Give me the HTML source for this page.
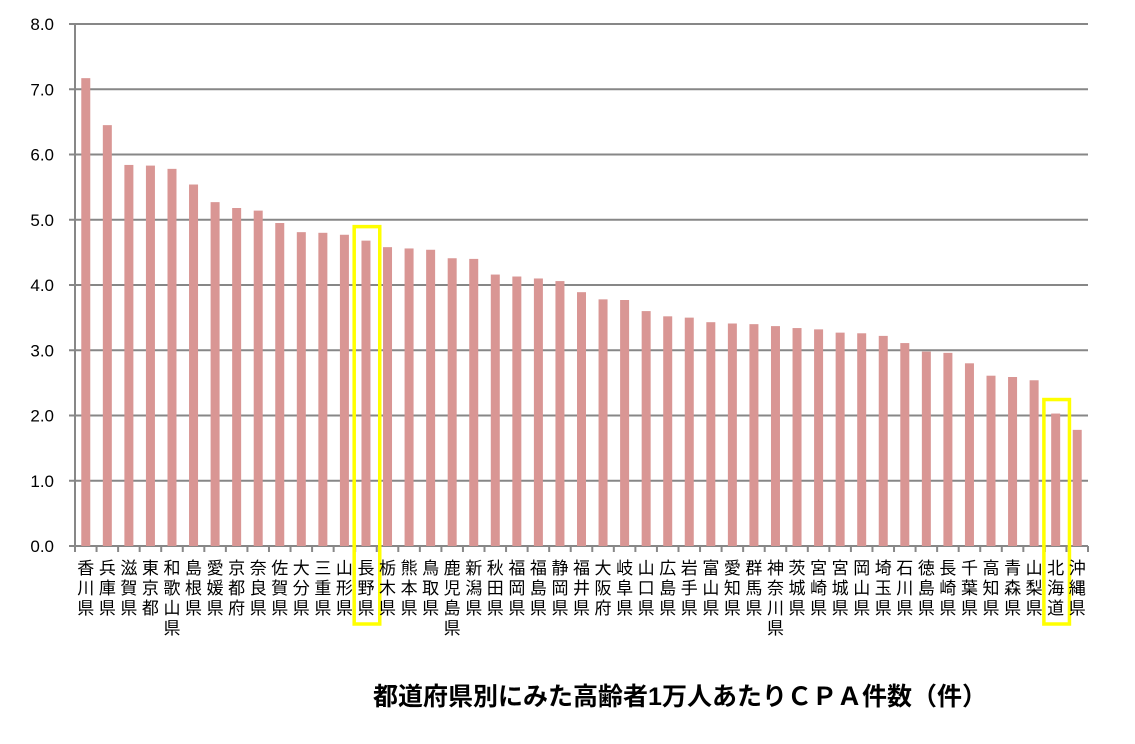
<!DOCTYPE html>
<html><head><meta charset="utf-8">
<style>
body{margin:0;background:#fff;width:1135px;height:739px;overflow:hidden;font-family:"Liberation Sans","Noto Sans CJK JP",sans-serif}
</style></head>
<body>
<svg id="chart" width="1135" height="739" xmlns="http://www.w3.org/2000/svg"></svg>
<script>
const categories=["香川県","兵庫県","滋賀県","東京都","和歌山県","島根県","愛媛県","京都府","奈良県","佐賀県","大分県","三重県","山形県","長野県","栃木県","熊本県","鳥取県","鹿児島県","新潟県","秋田県","福岡県","福島県","静岡県","福井県","大阪府","岐阜県","山口県","広島県","岩手県","富山県","愛知県","群馬県","神奈川県","茨城県","宮崎県","宮城県","岡山県","埼玉県","石川県","徳島県","長崎県","千葉県","高知県","青森県","山梨県","北海道","沖縄県"];
const values=[7.17,6.45,5.84,5.83,5.78,5.54,5.27,5.18,5.14,4.95,4.81,4.80,4.77,4.68,4.58,4.56,4.54,4.41,4.40,4.16,4.13,4.10,4.06,3.89,3.78,3.77,3.60,3.52,3.50,3.43,3.41,3.40,3.37,3.34,3.32,3.27,3.26,3.22,3.11,2.98,2.96,2.80,2.61,2.59,2.54,2.03,1.78];
const tickLabels=["0.0","1.0","2.0","3.0","4.0","5.0","6.0","7.0","8.0"];
const highlighted=["長野県","北海道"];
const svg=document.getElementById('chart');
const NS='http://www.w3.org/2000/svg';
const L=75,R=1088,T=24,B=546,ymax=8;
const bw=(R-L)/categories.length;
const y=v=>B-(v/ymax)*(B-T);
const x=i=>L+i*bw;
function mk(tag,a){const e=document.createElementNS(NS,tag);for(const k in a)e.setAttribute(k,a[k]);svg.appendChild(e);return e;}
tickLabels.forEach((t,i)=>{
  const v=parseFloat(t);
  const g=mk('line',{x1:L-6,x2:R,y1:y(v),y2:y(v),stroke:'#878787','stroke-width':2});
  
  
  const tx=mk('text',{x:54,y:y(v)+6,'text-anchor':'end','font-size':17,fill:'#000'});
  tx.textContent=t;
  
  
});
const ax=mk('line',{x1:L,x2:L,y1:T,y2:B,stroke:'#878787','stroke-width':2});


for(let i=0;i<=categories.length;i++){
  const tk=mk('line',{x1:x(i),x2:x(i),y1:B,y2:B+6,stroke:'#878787','stroke-width':2});
  
  
}
categories.forEach((c,i)=>{
  const cx=x(i)+bw/2;
  const b=mk('rect',{x:cx-4.5,y:y(values[i]),width:9,height:B-y(values[i]),fill:'#d99694'});
  
  
  const t=mk('text',{'text-anchor':'middle','font-size':17,fill:'#000'});
  
  
  [...c].forEach((ch,j)=>{const s=document.createElementNS(NS,'tspan');s.setAttribute('x',cx);s.setAttribute('y',574+j*20);s.textContent=ch;t.appendChild(s);});
  if(highlighted.includes(c)){
    const h=mk('rect',{x:x(i)-1,y:y(values[i])-14,width:bw+4,height:624-(y(values[i])-14),fill:'none',stroke:'#ffff00','stroke-width':3.5});
    
    
  }
});
const title=mk('text',{x:680,y:705,'text-anchor':'middle','font-size':25,'font-weight':'bold',fill:'#000'});
title.textContent='都道府県別にみた高齢者1万人あたりＣＰＡ件数（件）';


</script>
</body></html>
